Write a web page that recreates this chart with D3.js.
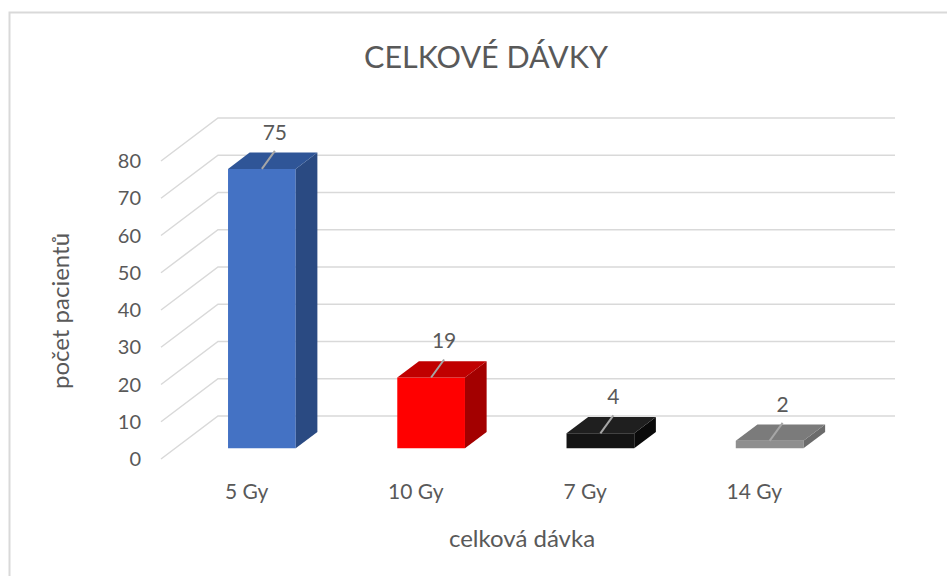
<!DOCTYPE html>
<html>
<head>
<meta charset="utf-8">
<script src="https://cdn.jsdelivr.net/npm/d3@7"></script>
<style>
  body { margin: 0; background: #fff; }
  text { font-family: Lato, "Open Sans", sans-serif; fill: #595959; }
</style>
</head>
<body>
<div id="chart"></div>
<script>
var categories = ["5 Gy", "10 Gy", "7 Gy", "14 Gy"];
var values = [75, 19, 4, 2];
var yTicks = [0, 10, 20, 30, 40, 50, 60, 70, 80];

var frontColors = ["#4472c4", "#ff0000", "#141414", "#8f8f8f"];
var topColors = ["#2f5597", "#c00000", "#1f1f1f", "#7b7b7b"];
var sideColors = ["#2a4a82", "#a30000", "#0a0a0a", "#6b6b6b"];

var width = 947, height = 576;

var svg = d3.select("#chart")
    .append("svg")
    .attr("width", width)
    .attr("height", height);

// chart frame
svg.append("rect")
    .attr("x", 9.5)
    .attr("y", 12.5)
    .attr("width", 960)
    .attr("height", 600)
    .attr("fill", "none")
    .attr("stroke", "#d9d9d9")
    .attr("stroke-width", 2);

// depth offset of the back wall
var DX = 57, DY = -43;
var z0 = 0.25, z1 = 0.63;
var left = 161, right = 838;

var x = d3.scaleBand().domain(categories).range([left + 2, right + 2]);
var y = d3.scaleLinear().domain([0, 80]).range([459, 161]);

function pt(px, v, z) {
    return [px + z * DX, y(v) + z * DY];
}

function poly(points) {
    return points.map(function (p) { return p.join(","); }).join(" ");
}

// gridlines: side wall + back wall
var grid = svg.append("g")
    .attr("fill", "none")
    .attr("stroke", "#d9d9d9")
    .attr("stroke-width", 1.5);

yTicks.forEach(function (t) {
    grid.append("polyline")
        .attr("points", poly([pt(left, t, 0), pt(left, t, 1), pt(right, t, 1)]));
});

// y tick labels
svg.selectAll(".ytick")
    .data(yTicks)
    .enter()
    .append("text")
    .attr("class", "ytick")
    .attr("x", 141)
    .attr("y", function (d) { return y(d) + 7; })
    .attr("text-anchor", "end")
    .attr("font-size", "20px")
    .text(function (d) { return d; });

// bars
var barW = x.bandwidth() * 0.4;
var bars = svg.selectAll(".bar")
    .data(values)
    .enter()
    .append("g")
    .attr("class", "bar");

bars.each(function (v, i) {
    var g = d3.select(this);
    var xl = x(categories[i]) + (x.bandwidth() - barW) / 2;
    var xr = xl + barW;
    // front
    g.append("polygon")
        .attr("points", poly([pt(xl, 0, z0), pt(xr, 0, z0), pt(xr, v, z0), pt(xl, v, z0)]))
        .attr("fill", frontColors[i]);
    // side
    g.append("polygon")
        .attr("points", poly([pt(xr, 0, z0), pt(xr, 0, z1), pt(xr, v, z1), pt(xr, v, z0)]))
        .attr("fill", sideColors[i]);
    // top
    g.append("polygon")
        .attr("points", poly([pt(xl, v, z0), pt(xr, v, z0), pt(xr, v, z1), pt(xl, v, z1)]))
        .attr("fill", topColors[i]);

    // leader line + label
    var s = pt((xl + xr) / 2, v, z0);
    var e = [s[0] + 13, s[1] - 18];
    g.append("line")
        .attr("x1", s[0]).attr("y1", s[1])
        .attr("x2", e[0]).attr("y2", e[1])
        .attr("stroke", "#a6a6a6")
        .attr("stroke-width", 2);
    g.append("text")
        .attr("x", e[0])
        .attr("y", e[1] - 11)
        .attr("text-anchor", "middle")
        .attr("font-size", "21px")
        .text(v);
});

// x labels
svg.selectAll(".xlabel")
    .data(categories)
    .enter()
    .append("text")
    .attr("class", "xlabel")
    .attr("x", function (d) { return x(d) + x.bandwidth() / 2 - 1; })
    .attr("y", 499)
    .attr("text-anchor", "middle")
    .attr("font-size", "21px")
    .text(function (d) { return d; });

// title
svg.append("text")
    .attr("x", 486)
    .attr("y", 68)
    .attr("text-anchor", "middle")
    .attr("font-size", "30.5px")
    .text("CELKOVÉ DÁVKY");

// axis titles
svg.append("text")
    .attr("x", 522)
    .attr("y", 547)
    .attr("text-anchor", "middle")
    .attr("font-size", "24px")
    .text("celková dávka");

svg.append("text")
    .attr("transform", "translate(69,311) rotate(-90)")
    .attr("text-anchor", "middle")
    .attr("font-size", "24px")
    .text("počet pacientů");
</script>
</body>
</html>
